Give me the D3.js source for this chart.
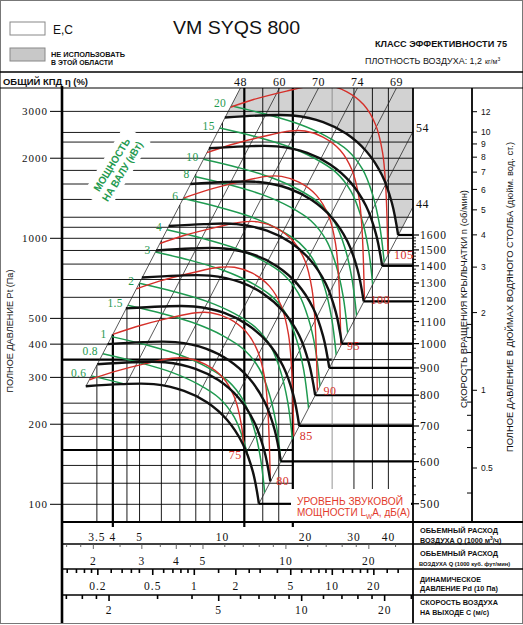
<!DOCTYPE html>
<html><head><meta charset="utf-8">
<script src="https://cdn.jsdelivr.net/npm/d3@7/dist/d3.min.js"></script>
<style>body{margin:0;background:#fff}svg{display:block}</style>
</head><body>
<svg id="c" width="523" height="625"></svg>
<script>
// ================= DATA =================
// Fan curves: total pressure Pt (Pa) vs air flow Q (1000 m3/h) at each impeller speed (rpm)
const rpmValues = [1600,1400,1200,1000,900,800,700,600,550,500];
const rpmCurves = [
 [[10.2,2846],[13.7,2895],[18.0,2895],[23.2,2736],[28.1,2477],[33.2,2129],[37.9,1730],[41.2,1357],[43.4,1029]],
 [[8.93,2179],[11.99,2216],[15.75,2216],[20.3,2095],[24.59,1896],[29.05,1630],[33.16,1325],[36.05,1039],[37.98,788]],
 [[7.65,1601],[10.28,1628],[13.5,1628],[17.4,1539],[21.08,1393],[24.9,1198],[28.43,973],[30.9,763],[32.55,579]],
 [[6.38,1112],[8.56,1131],[11.25,1131],[14.5,1069],[17.56,968],[20.75,832],[23.69,676],[25.75,530],[27.13,402]],
 [[5.74,900],[7.71,916],[10.13,916],[13.05,866],[15.81,784],[18.68,674],[21.32,547],[23.18,429],[24.41,326]],
 [[5.1,712],[6.85,724],[9.0,724],[11.6,684],[14.05,619],[16.6,532],[18.95,433],[20.6,339],[21.7,257]],
 [[4.46,545],[5.99,554],[7.88,554],[10.15,524],[12.29,474],[14.53,408],[16.58,331],[18.03,260],[18.99,197]],
 [[3.83,400],[5.14,407],[6.75,407],[8.7,385],[10.54,348],[12.45,299],[14.21,243],[15.45,191],[16.28,145]],
 [[3.51,336],[4.71,342],[6.19,342],[7.98,323],[9.66,293],[11.41,252],[13.03,204],[14.16,160],[14.92,122]],
 [[3.19,278],[4.28,283],[5.63,283],[7.25,267],[8.78,242],[10.38,208],[11.84,169],[12.88,133],[13.56,100.5]]
];
// Shaft power isolines (kW)
const powerValues = [0.6,0.8,1,1.5,2,3,4,6,8,10,15,20];
const powerCurves = [
 [[3.34,304],[4.48,282],[5.91,259],[7.41,233],[8.83,207],[10.01,176],[10.88,142],[11.54,109],[12.01,78]],
 [[3.68,368],[4.93,342],[6.51,314],[8.15,283],[9.72,251],[11.02,213],[11.98,171],[12.70,132],[13.22,95]],
 [[3.96,427],[5.31,397],[7.01,364],[8.78,328],[10.47,291],[11.87,247],[12.9,199],[13.68,153],[14.24,110]],
 [[4.53,560],[6.08,520],[8.02,477],[10.05,430],[11.99,381],[13.59,324],[14.77,261],[15.66,200],[16.30,144]],
 [[4.99,678],[6.69,630],[8.83,578],[11.06,521],[13.19,462],[14.96,392],[16.25,316],[17.24,243],[17.94,175]],
 [[5.71,888],[7.66,826],[10.11,757],[12.66,682],[15.10,605],[17.12,514],[18.60,414],[19.73,318],[20.54,229]],
 [[6.29,1076],[8.43,1000],[11.13,917],[13.94,826],[16.62,733],[18.84,622],[20.48,501],[21.72,386],[22.60,277]],
 [[7.20,1410],[9.65,1311],[12.74,1202],[15.95,1083],[19.03,961],[21.57,816],[23.44,657],[24.86,505],[25.88,363]],
 [[7.92,1708],[10.62,1588],[14.02,1456],[17.56,1312],[20.94,1164],[23.74,988],[25.8,796],[27.36,612],[28.48,440]],
 [[8.53,1982],[11.44,1843],[15.10,1690],[18.92,1522],[22.56,1351],[25.57,1146],[27.79,924],[29.47,710],[30.68,511]],
 [[9.77,2597],[13.10,2415],[17.29,2214],[21.65,1995],[25.82,1770],[29.27,1502],[31.81,1210],[33.74,931],[35.12,669]],
 [[10.75,3146],[14.41,2925],[19.03,2682],[23.83,2417],[28.42,2144],[32.22,1820],[35.02,1466],[37.13,1127],[38.65,810]]
];
// Sound power isolines LwA, dB(A)
const soundValues = [105,100,95,90,85,80,75];
const soundCurves = [
 [[10.69,3109],[12.96,3324],[17.08,3576],[21.40,3752],[24.26,3752],[28.19,3561],[32.50,3184],[35.92,2678],[38.10,2103],[39.08,1593],[39.56,1177],[39.85,868]],
 [[8.785,2098],[10.65,2243],[14.03,2413],[17.58,2532],[19.93,2532],[23.16,2403],[26.7,2149],[29.51,1807],[31.3,1419],[32.1,1075],[32.5,794],[32.74,586]],
 [[7.22,1416],[8.75,1514],[11.53,1629],[14.44,1709],[16.37,1709],[19.03,1622],[21.93,1450],[24.24,1220],[25.71,958],[26.37,726],[26.70,536],[26.90,395]],
 [[5.93,956],[7.19,1022],[9.47,1099],[11.86,1153],[13.45,1153],[15.63,1095],[18.02,979],[19.92,823],[21.12,646],[21.66,490],[21.93,362],[22.10,267]],
 [[4.87,645],[5.90,690],[7.78,742],[9.75,778],[11.05,778],[12.84,739],[14.80,661],[16.36,555],[17.35,436],[17.80,330],[18.02,244],[18.15,180]],
 [[4.00,435],[4.85,465],[6.39,501],[8.01,525],[9.08,525],[10.55,499],[12.16,446],[13.44,375],[14.26,294],[14.62,223],[14.80,165],[14.91,122]],
 [[3.29,294],[3.99,314],[5.25,338],[6.58,354],[7.46,354],[8.67,336],[9.99,301],[11.04,253],[11.71,199],[12.01,151],[12.16,111],[12.25,82]]
];
// Total efficiency system lines (P ~ Q^2): label and flow where each line crosses 1000 Pa
const effValues = [48,60,70,74,69,54,44];
const effQat1000 = [6.06,8.40,11.64,16.12,22.33,30.94,42.89];
// Grid
const gridQ = [3.5,4,4.5,5,6,7,8,9,10,12,14,16,18,25,30,35,40];
const gridQThick = [4,12,18];
const gridQGray = [25];
const gridP = [100,200,240,300,350,400,500,600,700,800,900,1000,1100,1200,1400,1600,1800,2000,2300,2500,3000];
const gridPShort = [120,140,160,180,220];   // lines that stop at Q = 18
const gridPShortEndQ = 18;
const gridPThick = [350,160];
const gridPThickEndQ = [25,18];
// Axis ticks
const pTickLabels = [100,200,300,400,500,1000,2000,3000];
const rpmTickLabels = [500,600,700,800,900,1000,1100,1200,1300,1400,1500,1600];
const inchTickLabels = [0.5,1,2,3,4,5,6,7,8,9,10,12];
const inchMinorTicks = [0.4,0.6,0.7,0.8,0.9,1.2,1.4,1.6,1.8];
const qTickLabels = [3.5,4,5,10,20,30,40];
const cfmTicks = [1.6,1.8,2,2.5,3,3.5,4,4.5,5,6,7,8,9,10,12,14,16,18,20,25];
const cfmTickLabels = [2,3,4,5,10,20];
const pdTicks = [0.12,0.14,0.16,0.18,0.2,0.25,0.3,0.35,0.4,0.5,0.6,0.7,0.8,0.9,1,1.5,2,2.5,3,4,5,6,7,8,9,10,12,14,16,18,20,25,30];
const pdTickLabels = [0.2,0.5,1,2,5,10,20];
const cTicks = [1.4,1.6,1.8,2,3,4,5,6,7,8,9,10,12,14,16,18,20,25];
const cTickLabels = [2,5,10,20];

// ================= CHART =================
const svg = d3.select('#c');
const PL=62, PR=413, PT=88, PB=522;
const x = d3.scaleLog().domain([2.615,49.14]).range([PL,PR]);
const y = d3.scaleLog().domain([85.8,3673]).range([PB,PT]);
const M3H_PER_CFM = 1.699;
const xCfm = d3.scaleLog().domain(x.domain().map(v=>v/M3H_PER_CFM)).range([PL,PR]);
const xPd = d3.scaleLog().domain([0.110,38.44]).range([PL,PR]);
const xC = d3.scaleLog().domain([1.35,25.35]).range([PL,PR]);
const yIn = d3.scaleLog().domain([0.5,12]).range([468,111.7]);

const GREEN='#1f9a50', RED='#d5302a', GRAYFILL='#d2d2d2';
const SERIF="'Liberation Serif','Times New Roman',serif";
const SANS="'Liberation Sans',Arial,sans-serif";
const NARROW="'Liberation Sans Narrow','Liberation Sans',Arial,sans-serif";

const line = d3.line().x(d=>x(d[0])).y(d=>y(d[1])).curve(d3.curveCatmullRom.alpha(0.5));
const L = {};
['frame','gray','grid','diag','green','red','black','thick','mask','axes','text'].forEach(k=>L[k]=svg.append('g'));
const defs = svg.append('defs');

function sample(node,n){const len=node.getTotalLength();const out=[];for(let i=0;i<=n;i++){const p=node.getPointAtLength(len*i/n);out.push([p.x,p.y]);}return out;}
const polyD = pts=>'M'+pts.map(p=>p[0].toFixed(2)+','+p[1].toFixed(2)).join('L')+'Z';
function txt(g,xx,yy,s,o){const t=g.append('text').attr('x',xx).attr('y',yy).text(s);
  t.attr('font-family',o.f||SANS).attr('font-size',o.s||9).attr('fill',o.c||'#111');
  if(o.a) t.attr('text-anchor',o.a); if(o.w) t.attr('font-weight',o.w);
  if(o.ls!=null) t.attr('letter-spacing',o.ls);
  if(o.tl) t.attr('textLength',o.tl).attr('lengthAdjust','spacingAndGlyphs');
  if(o.tr) t.attr('transform',o.tr); return t;}

// frame
L.frame.append('rect').attr('x',0.5).attr('y',0.5).attr('width',522).attr('height',623).attr('fill','#fff').attr('stroke','#777');

// black fan curves (drawn first to sample geometry)
const blackNodes = rpmCurves.map(c=>L.black.append('path').attr('d',line(c)).attr('fill','none')
  .attr('stroke','#111').attr('stroke-width',2.4).attr('stroke-linejoin','round').node());
const topPts = sample(blackNodes[0],200);
const botPts = sample(blackNodes[blackNodes.length-1],200);
const Pmax=y.domain()[1], Qmax=x.domain()[1];
const q48=effQat1000[0], q44=effQat1000[effQat1000.length-1];
const diagY=(q,Q)=>y(1000*Math.pow(Q/q,2));
const top48=[x(q48*Math.sqrt(Pmax/1000)),PT];
const right44=[PR,diagY(q44,Qmax)];
const corner=[PR,PT];
const grayPoly=[...topPts,right44,corner,top48];
const domPoly=[...botPts,right44,corner,top48];
defs.append('clipPath').attr('id','dom').append('path').attr('d',polyD(domPoly));

// gray "do not use" area
L.gray.append('path').attr('d',polyD(grayPoly)).attr('fill',GRAYFILL);

// grid
gridP.forEach(p=>L.grid.append('line').attr('x1',PL).attr('x2',PR).attr('y1',y(p)).attr('y2',y(p))
  .attr('stroke','#000').attr('stroke-width',0.9));
gridPShort.forEach(p=>L.grid.append('line').attr('x1',PL).attr('x2',x(gridPShortEndQ)).attr('y1',y(p)).attr('y2',y(p))
  .attr('stroke','#000').attr('stroke-width',0.9));
gridPThick.forEach((p,i)=>L.grid.append('line').attr('x1',PL).attr('x2',x(gridPThickEndQ[i])).attr('y1',y(p)).attr('y2',y(p))
  .attr('stroke','#000').attr('stroke-width',2.2));
gridQ.forEach(q=>{const thick=gridQThick.includes(q), gray=gridQGray.includes(q);
  const yt=Math.max(PT,diagY(q48,q));
  L.grid.append('line').attr('x1',x(q)).attr('x2',x(q)).attr('y1',yt).attr('y2',thick?527:PB)
   .attr('stroke',gray?'#8a8a8a':'#000').attr('stroke-width',thick?2.2:0.9);});

// efficiency lines
effQat1000.forEach((q,i)=>{
  const d=botPts.map(p=>p[1]-diagY(q,x.invert(p[0])));
  let s=null;
  for(let k=0;k<d.length-1;k++){ if(d[k]===0||d[k]*d[k+1]<0){const t=d[k]/(d[k]-d[k+1]);
    s=[botPts[k][0]+t*(botPts[k+1][0]-botPts[k][0]),botPts[k][1]+t*(botPts[k+1][1]-botPts[k][1])];break;} }
  if(!s){let m=0;d.forEach((v,k)=>{if(Math.abs(v)<Math.abs(d[m]))m=k;});s=botPts[m];}
  const Qtop=q*Math.sqrt(Pmax/1000);
  let e;
  if(Qtop<=Qmax){ e=[x(Qtop),PT];
    txt(L.text,e[0],85.5,effValues[i],{f:SERIF,s:12,a:'middle',ls:0.5});
  } else { e=[PR,diagY(q,Qmax)];
    txt(L.text,416,e[1]+1,effValues[i],{f:SERIF,s:12,ls:0.5});
  }
  L.diag.append('line').attr('x1',s[0]).attr('y1',s[1]).attr('x2',e[0]).attr('y2',e[1])
   .attr('stroke','#222').attr('stroke-width',0.75);
});

// power isolines
powerCurves.forEach((c,i)=>{
  L.green.append('path').attr('d',line(c)).attr('fill','none').attr('stroke',GREEN).attr('stroke-width',1.5).attr('clip-path','url(#dom)');
  txt(L.text,x(c[0][0])-5,y(c[0][1])+1.5,powerValues[i],{f:SERIF,s:11.5,a:'end',c:GREEN,ls:0.3});
});

// sound isolines
soundCurves.forEach((c,i)=>{
  const node=L.red.append('path').attr('d',line(c)).attr('fill','none').attr('stroke',RED).attr('stroke-width',1.4).attr('clip-path','url(#dom)').node();
  const pts=sample(node,400);
  let last=pts[0]; pts.forEach(p=>{ if(d3.polygonContains(domPoly,p)) last=p; });
  const end=pts[pts.length-1];
  if(Math.hypot(last[0]-end[0],last[1]-end[1])<5){
    txt(L.text,end[0]+6,end[1]+4,soundValues[i],{f:SERIF,s:12,c:RED,ls:0.5});
  } else {
    txt(L.text,last[0]-2,last[1]+14,soundValues[i],{f:SERIF,s:12,a:'end',c:RED,ls:0.5});
  }
});

// connection lines from each labelled speed curve to the rpm scale
rpmCurves.forEach((c,i)=>{ if(!rpmTickLabels.includes(rpmValues[i])) return; const e=c[c.length-1];
  L.thick.append('line').attr('x1',x(e[0])).attr('x2',PR).attr('y1',y(e[1])).attr('y2',y(e[1])).attr('stroke','#000').attr('stroke-width',2.2);});
const endLow=rpmCurves[rpmCurves.length-1].slice(-1)[0], endHigh=rpmCurves[0].slice(-1)[0];
const yRpm=d3.scaleLog().domain([rpmValues[rpmValues.length-1],rpmValues[0]]).range([y(endLow[1]),y(endHigh[1])]);

// masks behind labels
L.mask.append('rect').attr('x',291).attr('y',489).attr('width',120).attr('height',32).attr('fill','#fff');
const gm=L.mask.append('g').attr('transform','translate(117,168) rotate(-58.5)');
gm.append('rect').attr('x',-40).attr('y',-16).attr('width',80).attr('height',31).attr('fill','#fff');
const gt=L.text.append('g').attr('transform','translate(117,168) rotate(-58.5)');
txt(gt,0,-2.5,'МОЩНОСТЬ',{s:10.5,w:'bold',a:'middle',c:GREEN,tl:60});
txt(gt,0,10,'НА ВАЛУ (кВт)',{s:10.5,w:'bold',a:'middle',c:GREEN,tl:68});

// sound label
txt(L.text,297,504.5,'УРОВЕНЬ ЗВУКОВОЙ',{s:10,c:'#e23a2c',tl:106});
const t2=L.text.append('text').attr('x',297).attr('y',516).attr('font-family',SANS).attr('font-size',10).attr('fill','#e23a2c');
t2.append('tspan').text('МОЩНОСТИ L');
t2.append('tspan').attr('font-size',6.5).attr('dy',2.5).text('W');
t2.append('tspan').attr('dy',-2.5).text('A, дБ(A)');

// ---------- axes ----------
const A=L.axes;
function ln(x1,y1,x2,y2,w,c){A.append('line').attr('x1',x1).attr('y1',y1).attr('x2',x2).attr('y2',y2).attr('stroke',c||'#000').attr('stroke-width',w);}
// header lines
ln(0,72,523,72,1.6); ln(0,88,523,88,1.1);
// left axis
ln(PL,86,PL,623,2.6);
pTickLabels.forEach(p=>{ln(50,y(p),PL,y(p),1);
  txt(A,48,y(p)+4,p,{f:SERIF,s:11,a:'end',ls:1});});
txt(A,13,331,'ПОЛНОЕ ДАВЛЕНИЕ Pt (Па)',{s:9.5,a:'middle',tl:123,tr:'rotate(-90 13 331)'});
// right: rpm axis
ln(PR,88,PR,623,1.8);
d3.range(500,1601,20).forEach(n=>{if(n%100) ln(PR,yRpm(n),PR+3,yRpm(n),0.9);});
rpmTickLabels.forEach(n=>{ln(PR,yRpm(n),PR+6,yRpm(n),1.2);
  txt(A,420,yRpm(n)+4,n,{f:SERIF,s:11.5,ls:1});});
txt(A,467,299,'СКОРОСТЬ ВРАЩЕНИЯ КРЫЛЬЧАТКИ  n (об/мин)',{s:9.5,a:'middle',tl:218,tr:'rotate(-90 467 299)'});
// inch water axis
ln(472,88,472,PB,1.8);
inchTickLabels.forEach(v=>{ln(472,yIn(v),477,yIn(v),1);
  txt(A,481,yIn(v)+3.2,v,{s:8.5});});
inchMinorTicks.forEach(v=>ln(467,yIn(v),472,yIn(v),1));
txt(A,513,297,'ПОЛНОЕ ДАВЛЕНИЕ В ДЮЙМАХ ВОДЯНОГО СТОЛБА (дюйм. вод. ст.)',{s:9.5,a:'middle',tl:310,tr:'rotate(-90 513 297)'});

// bottom scales
ln(PL,PB,523,PB,2); ln(PL,544,523,544,1.6); ln(PL,569,523,569,1.6); ln(PL,595,523,595,1.6);
qTickLabels.forEach(q=>txt(A,x(q),541,q,{f:SERIF,s:11.5,a:'middle',ls:1}));
cfmTicks.forEach(v=>{const m=cfmTickLabels.includes(v); ln(xCfm(v),544,xCfm(v),544+(m?5:3),0.9,'#555');});
cfmTickLabels.forEach(v=>txt(A,xCfm(v),565,v,{f:SERIF,s:11.5,a:'middle',ls:1}));
pdTicks.forEach(v=>{const m=pdTickLabels.includes(v); ln(xPd(v),569,xPd(v),569+(m?6:4),1.6);});
pdTickLabels.forEach(v=>txt(A,xPd(v),590,v,{f:SERIF,s:11.5,a:'middle',ls:1}));
cTicks.forEach(v=>{const m=cTickLabels.includes(v); ln(xC(v),595,xC(v),595+(m?6:4),1.6);});
cTickLabels.forEach(v=>txt(A,xC(v),614,v,{f:SERIF,s:11.5,a:'middle',ls:1}));
// row titles
const RT={f:NARROW,s:7.2,w:'bold'};
txt(A,420,533,'ОБЬЕМНЫЙ РАСХОД',{...RT,tl:78});
const ta=A.append('text').attr('x',420).attr('y',542.5).attr('font-family',NARROW).attr('font-size',7.2).attr('font-weight','bold').attr('fill','#111');
ta.append('tspan').text('ВОЗДУХА Q (1000 м');ta.append('tspan').attr('font-size',5).attr('dy',-2.5).text('3');ta.append('tspan').attr('dy',2.5).text('/ч)');
txt(A,420,556,'ОБЬЕМНЫЙ РАСХОД',{...RT,tl:78});
txt(A,419,566,'ВОЗДУХА Q (1000 куб. фут/мин)',{f:NARROW,s:5.8,w:'bold'});
txt(A,420,582,'ДИНАМИЧЕСКОЕ',{...RT,tl:61});
txt(A,420,591,'ДАВЛЕНИЕ Pd (10 Па)',{...RT,tl:78});
txt(A,420,604.5,'СКОРОСТЬ ВОЗДУХА',{...RT,tl:78});
txt(A,420,614.5,'НА ВЫХОДЕ С (м/с)',{...RT,tl:69});

// ---------- header ----------
txt(A,3,84.5,'ОБЩИЙ КПД η (%)',{f:NARROW,s:9.5,w:'bold',tl:85});
A.append('rect').attr('x',10).attr('y',22).attr('width',35).attr('height',13).attr('fill','#fff').attr('stroke','#888');
A.append('rect').attr('x',10).attr('y',48).attr('width',35).attr('height',13).attr('fill','#c8c8c8').attr('stroke','#888');
txt(A,53,34,'E,C',{s:12});
txt(A,51,56.5,'НЕ ИСПОЛЬЗОВАТЬ',{f:NARROW,s:7,w:'bold',tl:74});
txt(A,51,65,'В ЭТОЙ ОБЛАСТИ',{f:NARROW,s:7,w:'bold',tl:62});
txt(A,173,33.5,'VM SYQS 800',{s:19,tl:127});
txt(A,375,47,'КЛАСС ЭФФЕКТИВНОСТИ 75',{s:8.5,w:'bold',tl:132});
txt(A,365,64,'ПЛОТНОСТЬ ВОЗДУХА: 1,2',{s:9,tl:117});
const kg=A.append('text').attr('x',485).attr('y',64).attr('font-family',SANS).attr('font-size',7).attr('fill','#111');
kg.append('tspan').text('кг/м');kg.append('tspan').attr('font-size',5).attr('dy',-3).text('3');
</script>
</body></html>
